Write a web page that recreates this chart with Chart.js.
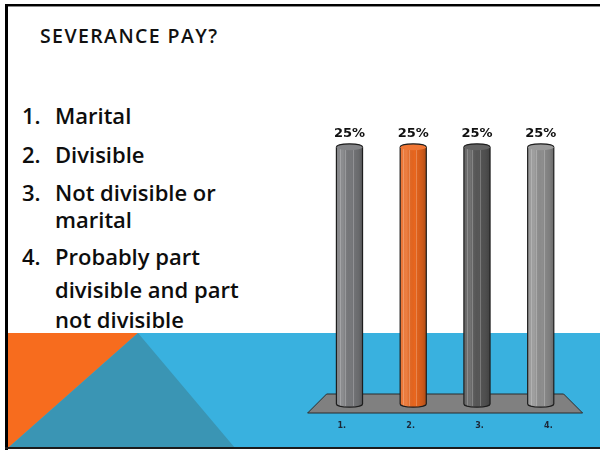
<!DOCTYPE html>
<html>
<head>
<meta charset="utf-8">
<title>Severance pay?</title>
<script src="https://cdn.jsdelivr.net/npm/chart.js@4/dist/chart.umd.min.js"></script>
<style>
  html, body { margin: 0; padding: 0; background: #ffffff; }
  #slide { position: relative; width: 600px; height: 450px; overflow: hidden; background: #ffffff; }
  #deco { position: absolute; left: 0; top: 0; }
  #title { position: absolute; left: 40px; top: 25px; font-family: "Open Sans", sans-serif; font-weight: 600;
           font-size: 19.5px; letter-spacing: 1.4px; color: #111; white-space: nowrap; line-height: 22px; }
  .line { position: absolute; font-family: "Open Sans", sans-serif; font-weight: 600; font-size: 22px; line-height: 22px;
          color: #0d0d0d; white-space: nowrap; }
  .num { position: absolute; left: 22px; }
  .txt { position: absolute; left: 55px; }
  #chartBox { position: absolute; left: 300px; top: 100px; width: 300px; height: 345px; }
</style>
</head>
<body>
<div id="slide">
  <svg id="deco" width="600" height="450" xmlns="http://www.w3.org/2000/svg">
    <rect x="8" y="333" width="592" height="115" fill="#39b1df"/>
    <polygon points="8,333 138,333 8,448" fill="#f76c1e"/>
    <polygon points="138,333 8,448 235,448" fill="#3a95b4"/>
    <rect x="5" y="4" width="595" height="2" fill="#000"/>
    <rect x="5" y="6" width="595" height="1" fill="#8a8a8a"/>
    <rect x="5" y="4" width="3" height="446" fill="#000"/>
    <rect x="5" y="447" width="595" height="2" fill="#1b1b1b"/>
  </svg>

  <div id="title">SEVERANCE PAY?</div>
  <div id="list"></div>

  <div id="chartBox"><canvas id="chart"></canvas></div>
</div>

<script>
// Answer options shown on the left, one entry per wrapped line
const optionNumbers = ['1.', '2.', '3.', '', '4.', '', ''];
const optionLines = ['Marital', 'Divisible', 'Not divisible or', 'marital', 'Probably part', 'divisible and part', 'not divisible'];
const optionBaselines = [123, 162, 200, 227, 264, 297, 327];

// Poll results
const categories = ['1.', '2.', '3.', '4.'];
const shares = [25, 25, 25, 25];
const valueLabels = ['25%', '25%', '25%', '25%'];
const barColors = ['#77787b', '#e8661e', '#575757', '#8e8e8e'];
const capColors = ['#838487', '#f07634', '#636363', '#9a9a9a'];

// Build the text list
const list = document.getElementById('list');
optionLines.forEach((t, i) => {
  const top = optionBaselines[i] - 19.5;
  if (optionNumbers[i]) {
    const n = document.createElement('div');
    n.className = 'line num';
    n.style.top = top + 'px';
    n.textContent = optionNumbers[i];
    list.appendChild(n);
  }
  const d = document.createElement('div');
  d.className = 'line txt';
  d.style.top = top + 'px';
  d.textContent = t;
  list.appendChild(d);
});

// Draws the grey floor, cylinder shading/caps, value labels and category labels
const cylinderPlugin = {
  id: 'cylinders',
  beforeDatasetsDraw(chart) {
    const { ctx, chartArea: a, scales: { y } } = chart;
    const base = y.getPixelForValue(0);
    ctx.save();
    ctx.beginPath();
    ctx.moveTo(a.left + 9, base - 10);
    ctx.lineTo(a.right - 9, base - 10);
    ctx.lineTo(a.right + 10, base + 9);
    ctx.lineTo(a.left - 10, base + 9);
    ctx.closePath();
    ctx.fillStyle = '#808080';
    ctx.fill();
    ctx.strokeStyle = '#2a2a2a';
    ctx.lineWidth = 1;
    ctx.stroke();
    ctx.restore();
  },
  afterDatasetsDraw(chart) {
    const { ctx, chartArea: a } = chart;
    const meta = chart.getDatasetMeta(0);
    const mid = (a.left + a.right) / 2;
    ctx.save();
    meta.data.forEach((bar, i) => {
      const { x, y, base, width } = bar.getProps(['x', 'y', 'base', 'width'], true);
      const left = x - width / 2, right = x + width / 2, rx = width / 2, ry = 3.2;

      // bottom rounded end
      ctx.beginPath();
      ctx.ellipse(x, base, rx, ry, 0, 0, Math.PI);
      ctx.fillStyle = barColors[i];
      ctx.fill();

      // body shading
      const g = ctx.createLinearGradient(left, 0, right, 0);
      g.addColorStop(0, 'rgba(255,255,255,0.10)');
      g.addColorStop(0.25, 'rgba(255,255,255,0.16)');
      g.addColorStop(0.55, 'rgba(0,0,0,0.0)');
      g.addColorStop(0.85, 'rgba(0,0,0,0.12)');
      g.addColorStop(1, 'rgba(0,0,0,0.25)');
      ctx.beginPath();
      ctx.moveTo(left, y);
      ctx.lineTo(right, y);
      ctx.lineTo(right, base);
      ctx.ellipse(x, base, rx, ry, 0, 0, Math.PI);
      ctx.closePath();
      ctx.fillStyle = g;
      ctx.fill();

      // thin vertical highlights
      ctx.strokeStyle = 'rgba(255,255,255,0.22)';
      ctx.lineWidth = 1;
      [0.12, 0.32, 0.62].forEach(f => {
        ctx.beginPath();
        ctx.moveTo(Math.round(left + f * width) + 0.5, y);
        ctx.lineTo(Math.round(left + f * width) + 0.5, base + 2);
        ctx.stroke();
      });

      // outline
      ctx.strokeStyle = '#1e1e1e';
      ctx.lineWidth = 1.2;
      ctx.beginPath();
      ctx.moveTo(left, y);
      ctx.lineTo(left, base);
      ctx.ellipse(x, base, rx, ry, 0, Math.PI, 0, true);
      ctx.lineTo(right, y);
      ctx.stroke();

      // top cap
      ctx.beginPath();
      ctx.ellipse(x, y, rx, ry, 0, 0, Math.PI * 2);
      ctx.fillStyle = capColors[i];
      ctx.fill();
      ctx.beginPath();
      ctx.ellipse(x, y, rx, ry, 0, Math.PI, 0);
      ctx.stroke();

      // value label
      ctx.fillStyle = '#111';
      ctx.font = 'bold 13px "DejaVu Sans", sans-serif';
      ctx.textAlign = 'center';
      ctx.textBaseline = 'alphabetic';
      ctx.fillText(valueLabels[i], x, y - 10);

      // category label, spread a little wider like the floor's front edge
      ctx.fillStyle = '#1c2838';
      ctx.font = 'bold 8px "DejaVu Sans", sans-serif';
      ctx.textBaseline = 'middle';
      ctx.fillText(categories[i], mid + (x - mid) * 1.08, base + 22);
    });
    ctx.restore();
  }
};

new Chart(document.getElementById('chart'), {
  type: 'bar',
  data: {
    labels: categories,
    datasets: [{
      data: shares,
      backgroundColor: barColors,
      borderWidth: 0,
      barPercentage: 0.41,
      categoryPercentage: 1
    }]
  },
  options: {
    responsive: true,
    maintainAspectRatio: false,
    animation: false,
    layout: { padding: { left: 17.6, right: 27.4, top: 47, bottom: 41 } },
    plugins: { legend: { display: false }, tooltip: { enabled: false } },
    scales: {
      x: { display: false },
      y: { display: false, min: 0, max: 25 }
    }
  },
  plugins: [cylinderPlugin]
});
</script>
</body>
</html>
